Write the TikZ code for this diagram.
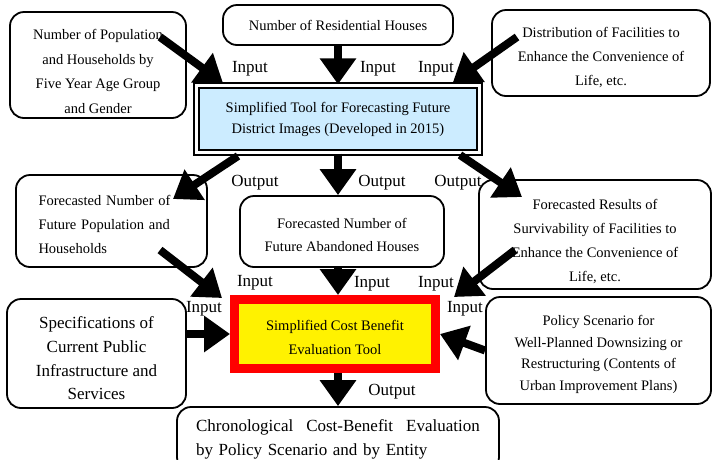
\documentclass[tikz,border=0pt]{standalone}
\usepackage{fontspec}
\setmainfont{Liberation Serif}
\usetikzlibrary{positioning,arrows.meta}
\definecolor{toolblue}{RGB}{204,236,255}
\newcommand{\padtop}[1]{\rule{0pt}{#1}}

\tikzset{
  infobox/.style={draw, line width=1.8pt, rounded corners=14pt, align=center, inner sep=0pt,
    font=\fontsize{14.5}{24}\selectfont},
  bigarrow/.style={line width=8pt, -{Triangle[length=26pt,width=35pt]}},
  iolabel/.style={inner sep=0pt, font=\fontsize{17}{20}\selectfont},
}

\begin{document}
\begin{tikzpicture}[x=1pt,y=-1pt]
\useasboundingbox (0,0) rectangle (712,459);

% Input boxes of the first tool
\node[infobox, minimum width=176pt, minimum height=106pt, font=\fontsize{14.5}{24.5}\selectfont] (popA) at (98,65)
  {\padtop{23pt}Number of Population\\and Households by\\Five Year Age Group\\and Gender};
\node[infobox, minimum width=230pt, minimum height=40pt] (resB) at (338,25)
  {Number of Residential Houses};
\node[infobox, minimum width=218pt, minimum height=86pt] (facC) at (601,53)
  {\padtop{19pt}Distribution of Facilities to\\Enhance the Convenience of\\Life, etc.};

% The forecasting tool
\node[draw, line width=2.4pt, double=white, double distance=2.6pt, fill=toolblue,
  minimum width=283pt, minimum height=67pt, align=center, inner sep=0pt,
  font=\fontsize{14.5}{21}\selectfont] (tool1) at (338,119)
  {Simplified Tool for Forecasting Future\\District Images (Developed in 2015)};

% Outputs of the first tool
\node[infobox, minimum width=191pt, minimum height=92pt, text width=146pt, align=left] (popD) at (111.5,221)
  {\padtop{17pt}Forecasted Number of\\Future Population and\\Households};
\node[infobox, minimum width=204pt, minimum height=71pt, font=\fontsize{14.5}{23}\selectfont] (abdE) at (342,231.5)
  {\padtop{17pt}Forecasted Number of\\Future Abandoned Houses};
\node[infobox, minimum width=232pt, minimum height=109pt] (survF) at (595,234.5)
  {\padtop{24pt}Forecasted Results of\\Survivability of Facilities to\\Enhance the Convenience of\\Life, etc.};

% The cost benefit tool and its side inputs
\node[draw=red, line width=9pt, fill=yellow, minimum width=201pt, minimum height=69pt,
  align=center, inner sep=0pt, font=\fontsize{14.5}{24}\selectfont] (tool2) at (335,334)
  {\padtop{17pt}Simplified Cost Benefit\\Evaluation Tool};
\node[infobox, minimum width=179pt, minimum height=109pt, font=\fontsize{17}{23.7}\selectfont] (specG) at (96.5,353.5)
  {\padtop{22pt}Specifications of\\Current Public\\Infrastructure and\\Services};
\node[infobox, minimum width=225pt, minimum height=107pt, font=\fontsize{14.5}{21.5}\selectfont] (polH) at (598.5,350.5)
  {\padtop{18pt}Policy Scenario for\\Well-Planned Downsizing or\\Restructuring (Contents of\\Urban Improvement Plans)};
\node[infobox, minimum width=322pt, minimum height=64pt, text width=284pt, align=left,
  font=\fontsize{17}{24}\selectfont] (chrI) at (338,439)
  {Chronological\hspace{13pt}Cost-Benefit\hspace{13pt}Evaluation\\by Policy Scenario and by Entity};

% Free ends of the slanted arrows
\coordinate (popAtail) at (160,37);
\coordinate (popAtip) at (223,83);
\coordinate (facCtail) at (517,37);
\coordinate (facCtip) at (453,82);
\coordinate (popDtail) at (238,156);
\coordinate (popDtip) at (173,199);
\coordinate (survFtail) at (460,155);
\coordinate (survFtip) at (522,197);
\coordinate (popDout) at (160,250);
\coordinate (popDin) at (222,298);
\coordinate (survFout) at (515,250);
\coordinate (survFin) at (454,297);

% Draw the arrows
\draw[bigarrow] (popAtail) -- (popAtip);
\draw[bigarrow] (resB.south) -- (tool1.north);
\draw[bigarrow] (facCtail) -- (facCtip);
\draw[bigarrow] (popDtail) -- (popDtip);
\draw[bigarrow] (tool1.south) -- (tool1.south |- abdE.north);
\draw[bigarrow] (survFtail) -- (survFtip);
\draw[bigarrow] (popDout) -- (popDin);
\draw[bigarrow] (tool1.south |- abdE.south) -- (tool1.south |- tool2.north);
\draw[bigarrow] (survFout) -- (survFin);
\draw[bigarrow] (specG.east |- tool2.west) -- (tool2.west);
\draw[bigarrow] (polH.west) -- (tool2.east);
\draw[bigarrow] (chrI.north |- tool2.south) -- (chrI.north);

% Input and output labels
\foreach \i/\x/\y/\t in {1/250/69/Input, 2/378/69/Input, 3/436/69/Input,
    4/255/183/Output, 5/382/183/Output, 6/458/183/Output,
    7/255/283/Input, 8/372/284/Input, 9/436/284/Input,
    10/204/309/Input, 11/465/309/Input, 12/392/392/Output}
  \node[iolabel] (lbl\i) at (\x,\y) {\t};
\end{tikzpicture}
\end{document}
